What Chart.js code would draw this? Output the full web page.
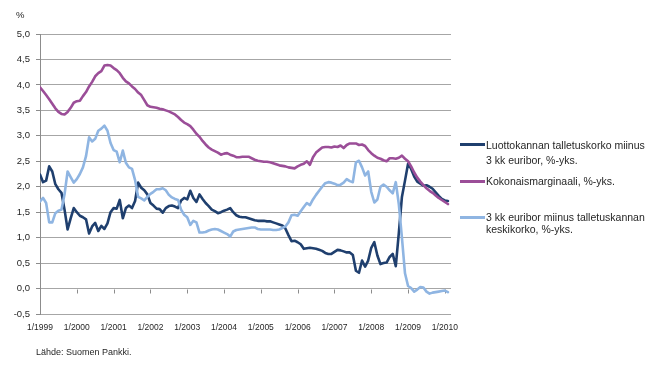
<!DOCTYPE html>
<html>
<head>
<meta charset="utf-8">
<script src="https://cdn.jsdelivr.net/npm/chart.js@4/dist/chart.umd.min.js"></script>
<style>
  html, body { margin: 0; padding: 0; background: #fff; overflow: hidden; }
  #wrap { position: relative; width: 664px; height: 367px; font-family: "Liberation Sans", Arial, sans-serif; color: #262626; }
  #c { position: absolute; left: 0; top: 0; }
  .txt { position: absolute; white-space: nowrap; line-height: 12px; }
  .leg { font-size: 10.5px; left: 486px; }
  .swatch { position: absolute; left: 460px; width: 25px; height: 3px; }
</style>
</head>
<body>
<div id="wrap">
  <canvas id="c" width="664" height="367"></canvas>
  <div class="txt" style="left:16px; top:9px; font-size:9.5px;">%</div>

  <div class="swatch" style="top:143px; background:#1f3f6e;"></div>
  <div class="txt leg" style="top:139px;">Luottokannan talletuskorko miinus</div>
  <div class="txt leg" style="top:154px;">3 kk euribor, %-yks.</div>

  <div class="swatch" style="top:180px; background:#9b4e98;"></div>
  <div class="txt leg" style="top:175px;">Kokonaismarginaali, %-yks.</div>

  <div class="swatch" style="top:216px; background:#8fb5e2;"></div>
  <div class="txt leg" style="top:211px;">3 kk euribor miinus talletuskannan</div>
  <div class="txt leg" style="top:223px;">keskikorko, %-yks.</div>

  <div class="txt" style="left:36px; top:346px; font-size:9px;">Lähde: Suomen Pankki.</div>
</div>
<script>
// Monthly observations, 1/1999 – 2/2010 (index 0 = 1/1999)
const months = [];
for (let y = 1999; y <= 2010; y++) {
  for (let m = 1; m <= 12; m++) months.push(m + '/' + y);
}

// Luottokannan talletuskorko miinus 3 kk euribor, %-yks.
const depositSpread = [
  2.24,2.09,2.12,2.40,2.30,2.05,1.95,1.88,1.55,1.16,
  1.38,1.58,1.50,1.43,1.40,1.36,1.08,1.22,1.29,1.13,
  1.23,1.17,1.28,1.50,1.58,1.57,1.74,1.38,1.58,1.63,
  1.58,1.72,2.08,1.98,1.93,1.85,1.68,1.63,1.57,1.56,
  1.49,1.58,1.62,1.63,1.61,1.58,1.73,1.78,1.75,1.92,
  1.78,1.70,1.85,1.76,1.68,1.62,1.55,1.52,1.48,1.50,
  1.53,1.55,1.58,1.50,1.44,1.41,1.40,1.40,1.38,1.36,
  1.34,1.33,1.33,1.33,1.32,1.32,1.30,1.28,1.26,1.24,
  1.18,1.05,0.93,0.94,0.91,0.87,0.78,0.79,0.80,0.79,
  0.78,0.76,0.74,0.70,0.68,0.68,0.72,0.76,0.75,0.73,
  0.71,0.71,0.66,0.35,0.31,0.55,0.43,0.55,0.80,0.91,
  0.65,0.48,0.50,0.51,0.62,0.68,0.44,1.10,1.80,2.12,
  2.45,2.35,2.20,2.10,2.06,2.02,2.03,2.00,1.96,1.89,
  1.82,1.76,1.73,1.72
];

// Kokonaismarginaali, %-yks.
const totalMargin = [
  3.95,3.88,3.80,3.72,3.63,3.54,3.47,3.43,3.42,3.47,
  3.55,3.65,3.68,3.69,3.78,3.86,3.97,4.06,4.17,4.23,
  4.27,4.38,4.39,4.38,4.33,4.29,4.23,4.14,4.07,4.03,
  3.97,3.92,3.85,3.80,3.70,3.60,3.57,3.56,3.55,3.53,
  3.52,3.50,3.48,3.45,3.42,3.37,3.31,3.26,3.23,3.19,
  3.12,3.04,2.98,2.90,2.83,2.77,2.73,2.70,2.67,2.63,
  2.65,2.66,2.63,2.61,2.58,2.58,2.59,2.59,2.59,2.56,
  2.53,2.51,2.50,2.49,2.49,2.48,2.46,2.44,2.42,2.41,
  2.40,2.38,2.37,2.36,2.40,2.43,2.45,2.50,2.43,2.58,
  2.67,2.72,2.77,2.78,2.78,2.77,2.79,2.78,2.81,2.76,
  2.82,2.85,2.85,2.85,2.82,2.83,2.80,2.72,2.66,2.61,
  2.57,2.55,2.52,2.50,2.56,2.56,2.55,2.57,2.61,2.55,
  2.50,2.40,2.28,2.18,2.10,2.03,1.97,1.92,1.88,1.83,
  1.78,1.74,1.70,1.66
];

// 3 kk euribor miinus talletuskannan keskikorko, %-yks.
const euriborSpread = [
  1.71,1.78,1.68,1.30,1.30,1.48,1.53,1.55,1.85,2.30,
  2.19,2.08,2.15,2.25,2.38,2.60,2.97,2.89,2.94,3.10,
  3.14,3.20,3.10,2.86,2.72,2.69,2.48,2.71,2.47,2.38,
  2.35,2.13,1.80,1.77,1.73,1.80,1.86,1.90,1.95,1.95,
  1.97,1.93,1.84,1.79,1.76,1.74,1.55,1.45,1.40,1.25,
  1.33,1.30,1.10,1.10,1.11,1.14,1.16,1.17,1.16,1.13,
  1.10,1.07,1.02,1.12,1.15,1.16,1.17,1.18,1.19,1.20,
  1.20,1.17,1.16,1.16,1.16,1.16,1.15,1.15,1.16,1.19,
  1.22,1.30,1.44,1.45,1.43,1.52,1.60,1.68,1.64,1.75,
  1.84,1.92,2.00,2.07,2.09,2.08,2.06,2.03,2.04,2.08,
  2.15,2.11,2.09,2.48,2.51,2.38,2.22,2.30,1.90,1.69,
  1.75,2.00,2.04,2.00,1.93,1.87,2.09,1.65,1.00,0.30,
  0.05,0.01,-0.06,-0.02,0.03,0.02,-0.06,-0.10,-0.08,-0.07,
  -0.06,-0.05,-0.04,-0.07
];

// Year ticks on the time axis
const yearTicks = ['1/1999','1/2000','1/2001','1/2002','1/2003','1/2004',
                   '1/2005','1/2006','1/2007','1/2008','1/2009','1/2010'];
const yearTickIdx = yearTicks.map(t => months.indexOf(t));

const toPoints = arr => arr.map((v, i) => ({ x: i, y: v }));
const FONT = '"Liberation Sans", Arial, sans-serif';

// Small tick marks hanging from the zero line at each January
const zeroTicks = {
  id: 'zeroTicks',
  beforeDatasetsDraw(chart) {
    const { ctx, scales: { x, y } } = chart;
    const y0 = Math.round(y.getPixelForValue(0)) + 0.5;
    ctx.save();
    ctx.strokeStyle = '#8c8c8c';
    ctx.lineWidth = 1;
    ctx.beginPath();
    yearTickIdx.forEach(i => {
      const px = Math.round(x.getPixelForValue(i)) + 0.5;
      ctx.moveTo(px, y0);
      ctx.lineTo(px, y0 + 4);
    });
    ctx.stroke();
    ctx.restore();
  }
};

const lineDs = (label, data, color, order) => ({
  label, data: toPoints(data), borderColor: color, backgroundColor: color,
  borderWidth: 2.6, pointRadius: 0, tension: 0, fill: false,
  borderJoinStyle: 'round', borderCapStyle: 'round', order
});

new Chart(document.getElementById('c'), {
  type: 'line',
  data: {
    datasets: [
      lineDs('Luottokannan talletuskorko miinus 3 kk euribor, %-yks.', depositSpread, '#1f3f6e', 3),
      lineDs('Kokonaismarginaali, %-yks.', totalMargin, '#9b4e98', 2),
      lineDs('3 kk euribor miinus talletuskannan keskikorko, %-yks.', euriborSpread, '#8fb5e2', 1)
    ]
  },
  options: {
    responsive: false,
    animation: false,
    parsing: true,
    layout: { padding: { left: 0, right: 213, top: 34, bottom: 0 } },
    plugins: { legend: { display: false }, tooltip: { enabled: false } },
    scales: {
      x: {
        type: 'linear', min: 0, max: 134,
        afterBuildTicks: s => { s.ticks = yearTickIdx.map(v => ({ value: v })); },
        afterFit: s => { s.height = 53; },
        grid: { display: false, drawTicks: false },
        border: { display: false },
        ticks: {
          padding: 9, maxRotation: 0, autoSkip: false, color: '#262626',
          font: { family: FONT, size: 8.5 },
          callback: v => yearTicks[yearTickIdx.indexOf(v)]
        }
      },
      y: {
        min: -0.5, max: 5,
        afterFit: s => { s.width = 40; },
        grid: { color: '#a6a6a6', lineWidth: 1, tickLength: 4, tickColor: '#8c8c8c' },
        border: { display: true, color: '#8c8c8c', width: 1 },
        ticks: {
          stepSize: 0.5, padding: 6, color: '#262626',
          font: { family: FONT, size: 9.5 },
          callback: v => v.toFixed(1).replace('.', ',')
        }
      }
    }
  },
  plugins: [zeroTicks]
});
</script>
</body>
</html>
